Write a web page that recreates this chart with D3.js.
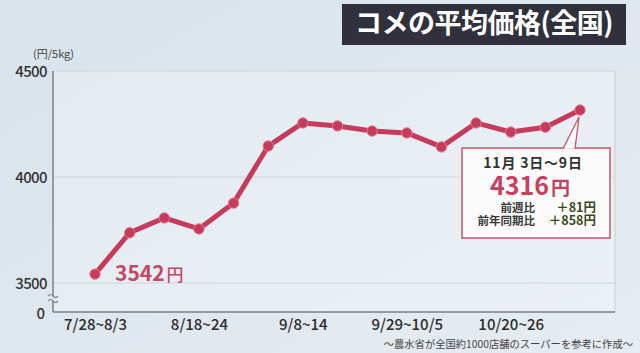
<!DOCTYPE html>
<html>
<head>
<meta charset="utf-8">
<script src="https://cdn.jsdelivr.net/npm/d3@7/dist/d3.min.js"></script>
<style>
html, body { margin: 0; padding: 0; }
body { width: 640px; height: 353px; overflow: hidden; }
svg { display: block; font-family: "Noto Sans CJK JP", "Noto Sans", sans-serif; }
</style>
</head>
<body>
<svg id="chart" width="640" height="353"></svg>
<script>
'use strict';

// weekly average price of rice (yen / 5kg)
const weeks = ["7/28~8/3", "8/4~10", "8/11~17", "8/18~24", "8/25~31", "9/1~7", "9/8~14",
	"9/15~21", "9/22~28", "9/29~10/5", "10/6~12", "10/13~19", "10/20~26", "10/27~11/2", "11/3~9"];
const prices = [3542, 3737, 3807, 3755, 3877, 4146, 4255, 4241, 4217, 4208, 4142, 4255, 4212, 4235, 4316];
const tickWeeks = ["7/28~8/3", "8/18~24", "9/8~14", "9/29~10/5", "10/20~26"];
const yTicks = [3500, 4000, 4500];

const titleText = "コメの平均価格(全国)";
const unitText = "(円/5kg)";
const sourceText = "～農水省が全国約1000店舗のスーパーを参考に作成～";
const calloutDate = "11月 3日～9日";
const calloutRows = [["前週比", "＋81円"], ["前年同期比", "＋858円"]];

const red = "#c63a5b";
const svg = d3.select("#chart");

// background
let defs = svg.append("defs");
let bg = defs.append("linearGradient").attr("id", "bg")
	.attr("x1", 0).attr("y1", 0).attr("x2", 1).attr("y2", 1);
bg.append("stop").attr("offset", "0%").attr("stop-color", "#d8e3ec");
bg.append("stop").attr("offset", "100%").attr("stop-color", "#e6ecf1");
svg.append("rect").attr("width", 640).attr("height", 353).attr("fill", "url(#bg)");

let pLeft = 53, pRight = 615, pTop = 71, pBottom = 312;

let x = d3.scalePoint().domain(weeks).range([95, 580]);
let y = d3.scaleLinear().domain([3500, 4500]).range([283, pTop]);

// plot panel
svg.append("rect")
	.attr("x", pLeft).attr("y", pTop)
	.attr("width", pRight - pLeft).attr("height", pBottom - pTop)
	.attr("fill", "#ffffff").attr("fill-opacity", 0.25);
svg.append("line")
	.attr("x1", pRight).attr("x2", pRight).attr("y1", pTop).attr("y2", pBottom)
	.attr("stroke", "#c9ced4").attr("stroke-width", 1);

// grid
svg.append("g").selectAll("line")
	.data(yTicks)
	.join("line")
	.attr("x1", pLeft).attr("x2", pRight)
	.attr("y1", d => y(d)).attr("y2", d => y(d))
	.attr("stroke", "#cfd4da").attr("stroke-width", 1);

// y axis labels
let yAxis = svg.append("g")
	.attr("transform", `translate(${pLeft},0)`)
	.call(d3.axisLeft(y).tickValues(yTicks).tickFormat(d3.format("d")).tickSize(0).tickPadding(6));
yAxis.select(".domain").remove();
yAxis.selectAll("text")
	.attr("font-size", 15).attr("fill", "#333").attr("font-family", "Noto Sans CJK JP")
	.attr("font-weight", 500)
	.attr("letter-spacing", -0.6).attr("dy", "0.35em");

svg.append("text")
	.attr("x", pLeft - 8).attr("y", pBottom + 3)
	.attr("text-anchor", "end").attr("dominant-baseline", "middle")
	.attr("font-size", 15).attr("font-weight", 500).attr("fill", "#333")
	.text("0");

// axes lines
svg.append("line")
	.attr("x1", pLeft).attr("x2", pLeft).attr("y1", pTop).attr("y2", pBottom)
	.attr("stroke", "#7b7f85").attr("stroke-width", 1.5);
svg.append("line")
	.attr("x1", pLeft).attr("x2", pRight).attr("y1", pBottom).attr("y2", pBottom)
	.attr("stroke", "#7b7f85").attr("stroke-width", 1.5);

// axis break mark
svg.append("rect")
	.attr("x", pLeft - 3).attr("y", 296).attr("width", 6).attr("height", 5)
	.attr("fill", "#e0e7ed");
let wave = d => `M${pLeft - 5},${d + 1} q2.5,-3 5,0 t5,0`;
svg.append("g").selectAll("path")
	.data([295, 300])
	.join("path")
	.attr("d", wave)
	.attr("fill", "none").attr("stroke", "#7b7f85").attr("stroke-width", 1.2);

// x axis labels
let xAxis = svg.append("g")
	.attr("transform", `translate(0,${pBottom})`)
	.call(d3.axisBottom(x).tickValues(tickWeeks).tickSize(0).tickPadding(7));
xAxis.select(".domain").remove();
xAxis.selectAll("text")
	.attr("font-size", 15).attr("fill", "#2b2b2b").attr("font-family", "Noto Sans CJK JP")
	.attr("font-weight", 500)
	.attr("dy", "0.72em");

// unit
svg.append("text")
	.attr("x", 33).attr("y", 55)
	.attr("dominant-baseline", "middle")
	.attr("font-size", 11).attr("fill", "#444")
	.text(unitText);

// line
let line = d3.line()
	.x((d, i) => x(weeks[i]))
	.y(d => y(d));
svg.append("path")
	.datum(prices)
	.attr("d", line)
	.attr("fill", "none")
	.attr("stroke", red).attr("stroke-width", 5)
	.attr("stroke-linejoin", "round");
svg.append("g").selectAll("circle")
	.data(prices)
	.join("circle")
	.attr("cx", (d, i) => x(weeks[i]))
	.attr("cy", d => y(d))
	.attr("r", 5.2)
	.attr("fill", red)
	.attr("stroke", "#e07a92").attr("stroke-width", 1);

// first value label
let firstLabel = svg.append("text")
	.attr("x", 115).attr("y", y(prices[0]) + 7)
	.attr("fill", "#c24966").attr("font-weight", "bold");
firstLabel.append("tspan").attr("font-size", 21).text(prices[0]);
firstLabel.append("tspan").attr("font-size", 17).attr("font-weight", 500).attr("dx", 2).text("円");

// title
svg.append("rect")
	.attr("x", 342).attr("y", 4).attr("width", 284).attr("height", 41)
	.attr("fill", "#30313d");
svg.append("text")
	.attr("x", 484).attr("y", 26)
	.attr("text-anchor", "middle").attr("dominant-baseline", "middle")
	.attr("font-size", 27).attr("font-weight", "bold").attr("fill", "#ffffff")
	.attr("letter-spacing", -0.5)
	.text(titleText);

// callout
let last = prices.length - 1;
let px = x(weeks[last]), py = y(prices[last]);
let box = { x: 462, y: 148, w: 148, h: 90 };
svg.append("rect")
	.attr("x", box.x).attr("y", box.y).attr("width", box.w).attr("height", box.h)
	.attr("fill", "#fbfbfb").attr("stroke", "#c9536f").attr("stroke-width", 1.5);
svg.append("path")
	.attr("d", `M563,${box.y + 0.8} L${px - 1},${py + 7} L575,${box.y + 0.8}`)
	.attr("fill", "#fbfbfb").attr("stroke", "#c9536f").attr("stroke-width", 1.3);

svg.append("text")
	.attr("x", 533).attr("y", 168)
	.attr("text-anchor", "middle")
	.attr("font-size", 14).attr("fill", "#333").attr("font-weight", "bold")
	.attr("letter-spacing", 0.8)
	.text(calloutDate);

let bigLabel = svg.append("text")
	.attr("x", 530).attr("y", 195)
	.attr("text-anchor", "middle")
	.attr("fill", "#c7405f").attr("font-weight", "bold");
bigLabel.append("tspan").attr("font-size", 25).text(prices[last]);
bigLabel.append("tspan").attr("font-size", 19).attr("dx", 2).text("円");

let rows = svg.append("g").selectAll("g")
	.data(calloutRows)
	.join("g")
	.attr("transform", (d, i) => `translate(0,${212 + i * 12.5})`);
rows.append("text")
	.attr("x", 535).attr("text-anchor", "end")
	.attr("font-size", 11.5).attr("fill", "#3a3a3a").attr("font-weight", "bold")
	.text(d => d[0]);
rows.append("text")
	.attr("x", 596).attr("text-anchor", "end")
	.attr("font-size", 12.5).attr("fill", "#3d4a1c").attr("font-weight", "bold")
	.text(d => d[1]);

// source note
svg.append("text")
	.attr("x", 633).attr("y", 345)
	.attr("text-anchor", "end").attr("dominant-baseline", "middle")
	.attr("font-size", 10.3).attr("fill", "#444")
	.text(sourceText);
</script>
</body>
</html>
